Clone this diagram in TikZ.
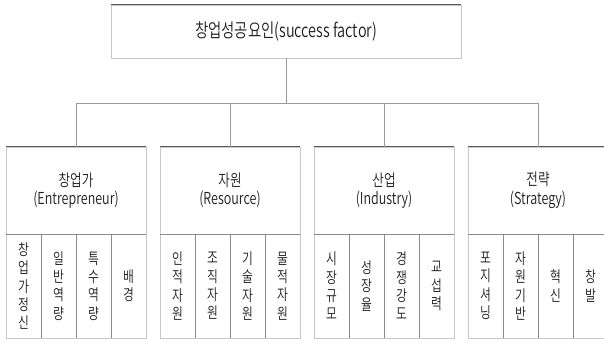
\documentclass[tikz,border=0pt]{standalone}
\usepackage{fontspec}
\setmainfont{Noto Sans CJK KR}[UprightFont={* DemiLight}, FakeStretch=0.76]
\definecolor{edgedark}{HTML}{5A5A5A}
\definecolor{boxside}{HTML}{C8C8C8}
\definecolor{sepgray}{HTML}{8A8A8A}
\definecolor{linkgray}{HTML}{999999}
\definecolor{txt}{HTML}{1E1E1E}
\begin{document}
\begin{tikzpicture}[x=1pt,y=-1pt,
  titlebox/.style={draw=boxside, line width=0.8pt, minimum width=350pt, minimum height=53pt, inner sep=0pt, text=txt, font=\fontsize{19}{22}\selectfont},
  hdr/.style={draw=boxside, line width=0.8pt, minimum width=140pt, minimum height=87pt, inner sep=0pt, align=center, text=txt, font=\fontsize{16.5}{18.5}\selectfont},
  cell/.style={draw=boxside, line width=0.8pt, minimum width=35pt, minimum height=104pt, inner sep=0pt, align=center, text=txt, font=\fontsize{15.5}{18.3}\selectfont},
  topedge/.style={draw=edgedark, line width=0.8pt},
  sepline/.style={draw=sepgray, line width=0.8pt},
  link/.style={draw=linkgray, line width=0.8pt}]
\useasboundingbox (0,0) rectangle (604,342);
\clip (0,0) rectangle (604,342);
\fill[white] (0,0) rectangle (604,342);

% title
\node[titlebox] (top) at (286,31.5) {창업성공요인(success factor)};

% group headers
\node[hdr] (g1) at (76,190.5) {창업가\\(Entrepreneur)};
\node[hdr] (g2) at (230,190.5) {자원\\(Resource)};
\node[hdr] (g3) at (384,190.5) {산업\\(Industry)};
\node[hdr] (g4) at (538,190.5) {전략\\(Strategy)};

% cells group 1
\node[cell] (g1a) at (23.5,286) {창\\업\\가\\정\\신};
\node[cell] (g1b) at (58.5,286) {일\\반\\역\\량};
\node[cell] (g1c) at (93.5,286) {특\\수\\역\\량};
\node[cell] (g1d) at (128.5,286) {배\\경};
% cells group 2
\node[cell] (g2a) at (177.5,286) {인\\적\\자\\원};
\node[cell] (g2b) at (212.5,286) {조\\직\\자\\원};
\node[cell] (g2c) at (247.5,286) {기\\술\\자\\원};
\node[cell] (g2d) at (282.5,286) {물\\적\\자\\원};
% cells group 3
\node[cell] (g3a) at (331.5,286) {시\\장\\규\\모};
\node[cell] (g3b) at (366.5,286) {성\\장\\율};
\node[cell] (g3c) at (401.5,286) {경\\쟁\\강\\도};
\node[cell] (g3d) at (436.5,286) {교\\섭\\력};
% cells group 4
\node[cell] (g4a) at (485.5,286) {포\\지\\셔\\닝};
\node[cell] (g4b) at (520.5,286) {자\\원\\기\\반};
\node[cell] (g4c) at (555.5,286) {혁\\신};
\node[cell] (g4d) at (590.5,286) {창\\발};

% darker top edges, dividers and separators
\draw[topedge] (top.north west) -- (top.north east);
\foreach \g in {g1,g2,g3,g4}{
  \draw[topedge] (\g.north west) -- (\g.north east);
  \draw[sepline] (\g.south west) -- (\g.south east);
  \foreach \c in {a,b,c}{
    \draw[sepline] (\g\c.north east) -- (\g\c.south east);
  }
}

% connectors
\coordinate (bus) at (286,103);
\draw[link] (top.south) -- (bus);
\draw[link] (g1.north) -- (g1.north |- bus) -- (g4.north |- bus) -- (g4.north);
\draw[link] (g2.north) -- (g2.north |- bus);
\draw[link] (g3.north) -- (g3.north |- bus);
\end{tikzpicture}
\end{document}
